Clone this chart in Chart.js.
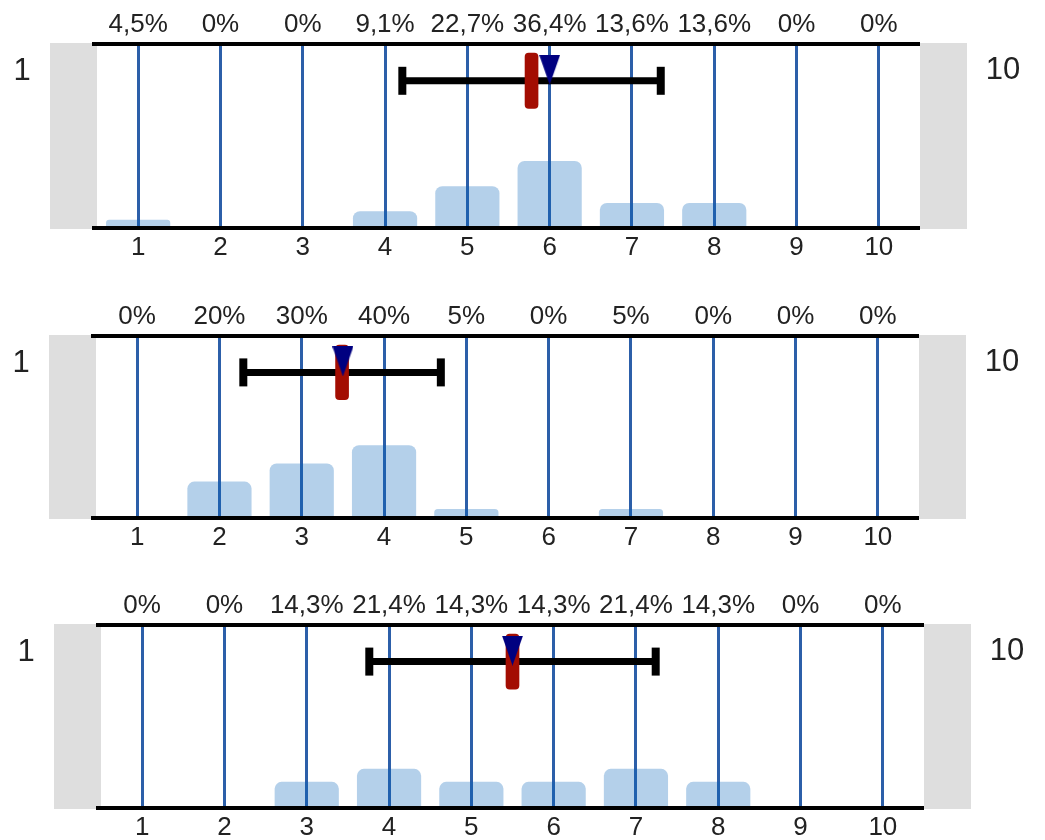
<!DOCTYPE html>
<html><head><meta charset="utf-8">
<script src="https://cdn.jsdelivr.net/npm/chart.js@4.4.1/dist/chart.umd.min.js"></script>
<style>
html,body{margin:0;padding:0;background:#fff;overflow:hidden;width:1045px;height:840px;}
canvas{position:absolute;}
</style></head><body>
<canvas id="c0"></canvas><canvas id="c1"></canvas><canvas id="c2"></canvas>
<script>
// ---- data ----
const categories = ['1','2','3','4','5','6','7','8','9','10'];
const percents1 = [4.5, 0, 0, 9.1, 22.7, 36.4, 13.6, 13.6, 0, 0];
const percents2 = [0, 20, 30, 40, 5, 0, 5, 0, 0, 0];
const percents3 = [0, 0, 14.3, 21.4, 14.3, 14.3, 21.4, 14.3, 0, 0];
const means   = [5.78, 3.49, 5.5];
const stdDevs = [1.57, 1.2, 1.74];
const medians = [6, 3.5, 5.5];
const endLabels = ['1', '10'];

// ---- layout / style ----
const panelLayout = [
  {top: 44,  h: 184, shift: 0},
  {top: 336, h: 182, shift: -1},
  {top: 625, h: 183, shift: 4}
];
const allPercents = [percents1, percents2, percents3];
const FONT = 'Liberation Sans, Arial, sans-serif';

function fmtPct(v) {
  return Number.isInteger(v) ? v + '%' : v.toFixed(1).replace('.', ',') + '%';
}

const tri = document.createElement('canvas');
tri.width = 21; tri.height = 30;
(function () {
  const c = tri.getContext('2d');
  c.fillStyle = '#000080';
  c.beginPath(); c.moveTo(0, 0); c.lineTo(21, 0); c.lineTo(10.5, 30); c.closePath(); c.fill();
})();

const sidePlugin = {
  id: 'sideBlocks',
  beforeDraw(chart) {
    const {ctx, chartArea: a} = chart;
    ctx.save();
    ctx.fillStyle = '#dedede';
    ctx.fillRect(a.left - 47, a.top - 1, 47, a.bottom - a.top + 2);
    ctx.fillRect(a.right, a.top - 1, 47, a.bottom - a.top + 2);
    ctx.restore();
  },
  afterDraw(chart) {
    const {ctx, chartArea: a} = chart;
    ctx.save();
    ctx.fillStyle = '#222';
    ctx.font = '31px ' + FONT;
    ctx.textAlign = 'center';
    ctx.textBaseline = 'middle';
    ctx.fillText(endLabels[0], a.left - 75, a.top + 27);
    ctx.fillText(endLabels[1], a.right + 83, a.top + 26);
    ctx.restore();
  }
};

function makeChart(i) {
  const p = panelLayout[i];
  const cv = document.getElementById('c' + i);
  cv.width = 1045; cv.height = 44 + p.h + 40;
  cv.style.width = '1045px'; cv.style.height = cv.height + 'px';
  cv.style.left = p.shift + 'px'; cv.style.top = (p.top - 44) + 'px';
  const tickFont = {family: FONT, size: 26};
  new Chart(cv, {
    type: 'bar',
    data: {
      labels: categories,
      datasets: [
        {type: 'scatter', order: 0, xAxisID: 'x2', yAxisID: 'y',
         data: [{x: medians[i], y: 86}], pointStyle: tri, pointRadius: 10, pointHoverRadius: 10},
        {type: 'bar', order: 1, xAxisID: 'x2', yAxisID: 'y', grouped: false,
         data: [{x: means[i], y: [65, 95]}], barThickness: 13, borderRadius: 4,
         borderSkipped: false, backgroundColor: '#a30d02'},
        {type: 'line', order: 2, xAxisID: 'x2', yAxisID: 'y',
         data: [{x: means[i] - stdDevs[i], y: 80}, {x: means[i] + stdDevs[i], y: 80}],
         borderColor: '#000', borderWidth: 7, pointStyle: 'line', pointRotation: 90,
         pointRadius: 14, pointHoverRadius: 14, pointBorderWidth: 8,
         pointBorderColor: '#000', pointBackgroundColor: '#000'},
        {type: 'bar', order: 3, xAxisID: 'x', yAxisID: 'y', grouped: false,
         data: allPercents[i], backgroundColor: 'rgba(8,98,185,0.3)', borderRadius: 7,
         barPercentage: 0.78, categoryPercentage: 1}
      ]
    },
    options: {
      responsive: false, animation: false, events: [],
      layout: {padding: {left: 92, right: 125, top: 0, bottom: 0}},
      plugins: {legend: {display: false}, tooltip: {enabled: false}},
      scales: {
        x: {type: 'category', position: 'bottom', offset: true,
            grid: {color: '#2c5fa9', lineWidth: 3, offset: false, drawTicks: false},
            border: {display: false},
            ticks: {font: tickFont, color: '#222', padding: 4, maxRotation: 0, autoSkip: false},
            afterFit(s) { s.height = 40; }},
        xTop: {type: 'category', position: 'top', labels: allPercents[i].map(fmtPct), offset: true,
            grid: {display: false}, border: {display: false},
            ticks: {font: tickFont, color: '#222', padding: -4, maxRotation: 0, autoSkip: false},
            afterFit(s) { s.height = 44; }},
        x2: {type: 'linear', display: false, min: 0.5, max: 10.5, offset: false, grid: {offset: false}},
        y: {type: 'linear', min: 0, max: 100,
            ticks: {display: false, stepSize: 100},
            grid: {color: '#000', lineWidth: 4, drawTicks: true, tickLength: 5},
            border: {display: false},
            afterFit(s) { s.width = 5; }}
      }
    },
    plugins: [sidePlugin]
  });
}
[0, 1, 2].forEach(makeChart);
</script>
</body></html>
